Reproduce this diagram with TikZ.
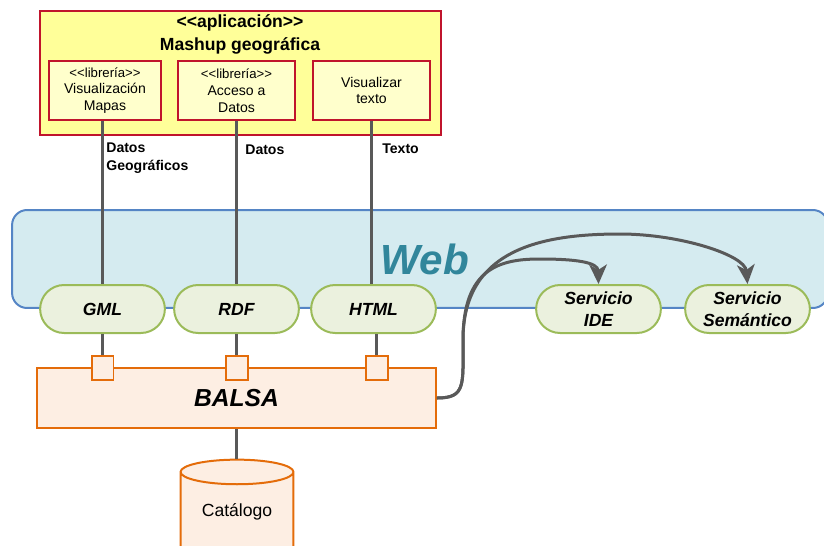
\documentclass[tikz,border=0pt]{standalone}
\usepackage{fontspec}
\setmainfont{Liberation Sans}
\usetikzlibrary{shapes}
\usetikzlibrary{arrows.meta}
\definecolor{appfill}{HTML}{FFFF99}
\definecolor{libfill}{HTML}{FFFFCC}
\definecolor{appline}{HTML}{C0142C}
\definecolor{webfill}{HTML}{D5EBF0}
\definecolor{webline}{HTML}{5585C5}
\definecolor{webtext}{HTML}{31869B}
\definecolor{pillfill}{HTML}{EBF1DE}
\definecolor{pillline}{HTML}{9BBB59}
\definecolor{balsafill}{HTML}{FDEEE3}
\definecolor{balsaline}{HTML}{E46C0A}
\definecolor{linkgray}{HTML}{595959}
\begin{document}
\begin{tikzpicture}[x=0.02cm,y=-0.02cm]
\tikzset{libbox/.style = {draw=appline,line width=0.04cm,fill=libfill,minimum height=1.18cm,align=center,font=\fontsize{8}{9.6}\selectfont}}
\tikzset{pill/.style = {shape=rounded rectangle,draw=pillline,fill=pillfill,line width=0.04cm,minimum width=2.73cm,minimum height=0.96cm,align=center,font=\fontsize{10}{12.5}\selectfont\bfseries\itshape}}
\tikzset{port/.style = {draw=balsaline,fill=balsafill,line width=0.04cm,minimum width=0.44cm,minimum height=0.48cm,inner sep=0pt}}
\tikzset{link/.style = {draw=linkgray,line width=0.06cm}}
\tikzset{edge/.style = {-{Stealth[length=11pt,width=10pt,inset=3pt]},link}}
\tikzset{tag/.style = {anchor=west,align=left,inner sep=0pt,font=\fontsize{8}{10.2}\selectfont\bfseries}}
\useasboundingbox (0,0) rectangle (824,545);
\node[draw=webline,fill=webfill,line width=0.04cm,rounded corners=0.3cm,minimum width=16.32cm,minimum height=1.96cm,text=webtext,font=\fontsize{24}{28}\selectfont\bfseries\itshape] (web) at (420,259) {\hspace{0.2cm}Web};

\node[draw=appline,fill=appfill,line width=0.04cm,minimum width=8.02cm,minimum height=2.48cm] (app) at (240.5,73) {};
\node[align=center,font=\fontsize{10}{13}\selectfont\bfseries] (apptitle) at (240,34) {<{}<aplicación>{}>\\Mashup geográfica};
\node[libbox,minimum width=2.24cm] (vismap) at (105,90.5) {{\fontsize{7.5}{9.6}\selectfont <{}<librería>{}>}\\Visualización\\Mapas};
\node[libbox,minimum width=2.34cm] (acceso) at (236.5,90.5) {{\fontsize{7.5}{9.6}\selectfont <{}<librería>{}>}\\Acceso a\\Datos};
\node[libbox,minimum width=2.34cm] (vistexto) at (371.5,90.5) {Visualizar\\texto};

\node[pill] (gml) at (102.5,309) {GML};
\node[pill] (rdf) at (236.5,309) {RDF};
\node[pill] (html) at (373.5,309) {HTML};
\node[pill] (ide) at (598.5,309) {Servicio\\IDE};
\node[pill] (sem) at (747.5,309) {Servicio\\Semántico};

\node[draw=balsaline,fill=balsafill,line width=0.04cm,minimum width=7.98cm,minimum height=1.2cm,font=\fontsize{14}{16}\selectfont\bfseries\itshape] (balsa) at (236.5,398) {BALSA};
\node[port] (port1) at (102.5,368) {};
\node[port] (port2) at (236.5,368) {};
\node[port] (port3) at (376.5,368) {};
\node[shape=cylinder,shape border rotate=90,aspect=0.3,draw=balsaline,fill=balsafill,line width=0.04cm,minimum width=2.26cm,minimum height=2cm,text depth=0.34cm,font=\fontsize{10}{12}\selectfont] (cat) at (237,519) {Catálogo};

\node[tag] (lbgeo) at (106,158) {Datos\\Geográficos};
\node[tag] (lbdatos) at (245,150) {Datos};
\node[tag] (lbtexto) at (382,149) {Texto};

\draw[link] (gml.north |- vismap.south) -- (gml.north);
\draw[link] (acceso.south) -- (rdf.north);
\draw[link] (vistexto.south) -- (vistexto.south |- html.north);
\draw[link] (gml.south) -- (port1.north);
\draw[link] (rdf.south) -- (port2.north);
\draw[link] (port3.north |- html.south) -- (port3.north);
\draw[link] (balsa.south) -- (balsa.south |- cat.north);
\draw[edge] (balsa.east) .. controls (466,398) and (463,385) .. (463,340) .. controls (463,268) and (500,259) .. (540,259) .. controls (575,259) and (598,262) .. (ide.north);
\draw[edge] (balsa.east) .. controls (466,398) and (463,385) .. (463,340) .. controls (463,250) and (540,234) .. (620,234) .. controls (680,234) and (745,255) .. (sem.north);
\end{tikzpicture}
\end{document}
